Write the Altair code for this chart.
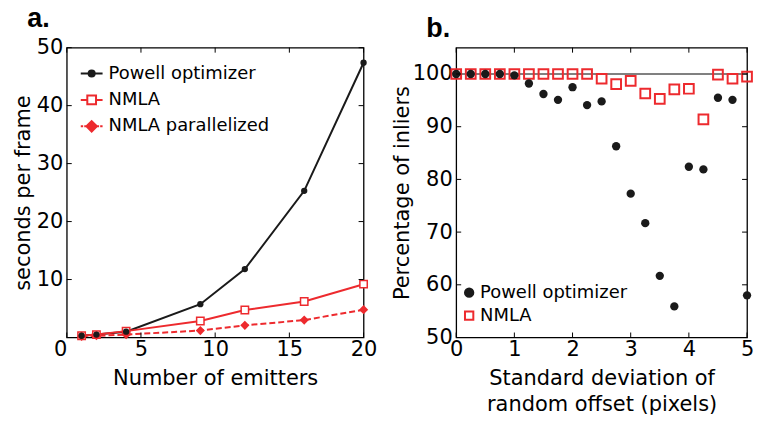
import altair as alt
import pandas as pd

# ---------------- data: panel a ----------------
emitters = [1, 2, 4, 9, 12, 16, 20]
powell_sec = [0.3, 0.5, 1.0, 5.75, 11.8, 25.3, 47.4]
nmla_sec = [0.3, 0.5, 1.1, 2.85, 4.75, 6.2, 9.2]
nmla_par_sec = [0.2, 0.3, 0.5, 1.2, 2.1, 3.0, 4.8]
series_a = ["Powell optimizer", "NMLA", "NMLA parallelized"]
xticks_a = [0, 5, 10, 15, 20]
yticks_a = [0, 10, 20, 30, 40, 50]
ylabels_a = [10, 20, 30, 40, 50]

# ---------------- data: panel b ----------------
offset_sd = [0, 0.25, 0.5, 0.75, 1.0, 1.25, 1.5, 1.75, 2.0, 2.25, 2.5,
             2.75, 3.0, 3.25, 3.5, 3.75, 4.0, 4.25, 4.5, 4.75, 5.0]
powell_pct = [100, 100, 100, 100, 99.75, 98.2, 96.2, 95.1, 97.5, 94.1, 94.8,
              86.3, 77.3, 71.7, 61.7, 55.9, 82.4, 81.9, 95.5, 95.1, 58.0]
nmla_pct = [100, 100, 100, 100, 100, 100, 100, 100, 100, 100, 99.1,
            98.1, 98.7, 96.3, 95.3, 97.1, 97.2, 91.4, 99.9, 99.1, 99.5]
series_b = ["Powell optimizer", "NMLA"]
xticks_b = [0, 1, 2, 3, 4, 5]
yticks_b = [50, 60, 70, 80, 90, 100]
reference_level = [100]

RED = "#ed2a2e"
BLACK = "#1a1a1a"
FONT = "DejaVu Sans"
W_A, W_B, H = 298, 292, 291
TICK = 5


def axis_x(values, first_right=False):
    kw = {}
    if first_right:
        kw["labelAlign"] = {"condition": {"test": "datum.value == 0", "value": "right"}, "value": "center"}
    return alt.Axis(values=values, ticks=False, domain=False, grid=False, labelFontSize=21,
                    labelFont=FONT, labelColor="black", labelPadding=1,
                    titleFontSize=21, titleFont=FONT, titleFontWeight="normal",
                    titleColor="black", titlePadding=8, titleLineHeight=26,
                    labelFlush=False, format="d", **kw)


def axis_y(values, tpad):
    return alt.Axis(values=values, ticks=False, domain=False, grid=False,
                    labelFontSize=21, labelFont=FONT, labelColor="black",
                    labelPadding=4, titleFontSize=21, titleFont=FONT,
                    titleFontWeight="normal", titleColor="black",
                    titlePadding=tpad, labelFlush=False, format="d")


def tick_layers(xvals, yvals, xs, ys, w):
    tx = pd.DataFrame({"v": xvals})
    ty = pd.DataFrame({"v": yvals})
    top = alt.Chart(tx).mark_rule(color="black", strokeWidth=1).encode(
        x=alt.X("v:Q", scale=xs), y=alt.value(0), y2=alt.value(TICK))
    bot = alt.Chart(tx).mark_rule(color="black", strokeWidth=1).encode(
        x=alt.X("v:Q", scale=xs), y=alt.value(H), y2=alt.value(H - TICK))
    left = alt.Chart(ty).mark_rule(color="black", strokeWidth=1).encode(
        y=alt.Y("v:Q", scale=ys), x=alt.value(0), x2=alt.value(TICK))
    right = alt.Chart(ty).mark_rule(color="black", strokeWidth=1).encode(
        y=alt.Y("v:Q", scale=ys), x=alt.value(w), x2=alt.value(w - TICK))
    return [top, bot, left, right]


def panel_title(text, dx):
    return alt.TitleParams(text, anchor="start", dx=dx, fontSize=27, font="Liberation Sans",
                           fontWeight="bold", color="black", offset=4)


# ---------------- panel a ----------------
df_pow = pd.DataFrame({"x": emitters, "y": powell_sec})
df_nmla = pd.DataFrame({"x": emitters, "y": nmla_sec})
df_par = pd.DataFrame({"x": emitters, "y": nmla_par_sec})

xs_a = alt.Scale(domain=[0, 20], nice=False, zero=False)
ys_a = alt.Scale(domain=[0, 50], nice=False)
X_a = alt.X("x:Q", scale=xs_a, axis=axis_x(xticks_a, first_right=True), title="Number of emitters")
Y_a = alt.Y("y:Q", scale=ys_a, axis=axis_y(ylabels_a, 3), title="seconds per frame")

line_pow = alt.Chart(df_pow).mark_line(color=BLACK, strokeWidth=2).encode(x=X_a, y=Y_a)
line_nmla = alt.Chart(df_nmla).mark_line(color=RED, strokeWidth=2).encode(x=X_a, y=Y_a)
line_par = alt.Chart(df_par).mark_line(color=RED, strokeWidth=2, strokeDash=[6, 3]).encode(x=X_a, y=Y_a)
pt_pow = alt.Chart(df_pow).mark_point(shape="circle", filled=True, color=BLACK, size=40, opacity=1).encode(x=X_a, y=Y_a)
pt_nmla = alt.Chart(df_nmla).mark_point(shape="square", fill="white", stroke=RED, strokeWidth=1.5,
                                        size=55, opacity=1, fillOpacity=1).encode(x=X_a, y=Y_a)
pt_par = alt.Chart(df_par).mark_point(shape="diamond", filled=True, color=RED, size=85, opacity=1).encode(x=X_a, y=Y_a)

# legend-only layer (invisible marks, symbols drawn by the legend)
leg_a_df = pd.DataFrame({"x": [emitters[0]] * 3, "y": [powell_sec[0], nmla_sec[0], nmla_par_sec[0]],
                         "series_a": series_a})
path_circle = "M-1,0L1,0M0.28,0A0.28,0.28 0 1,1 -0.28,0A0.28,0.28 0 1,1 0.28,0Z"
path_square = "M-1,0L-0.4,0M0.4,0L1,0M-0.4,-0.4L0.4,-0.4L0.4,0.4L-0.4,0.4Z"
path_diamond = ("M-1,0L-0.78,0M-0.68,0L-0.5,0M0.5,0L0.68,0M0.78,0L1,0"
                "M0,-0.48L0.48,0L0,0.48L-0.48,0Z")
leg_a = alt.Legend(title=None, orient="none", legendX=13, legendY=14,
                   labelFontSize=18, labelFont=FONT, labelColor="black", labelLimit=300,
                   symbolSize=480, symbolStrokeWidth=2, labelOffset=5,
                   rowPadding=5.5, padding=0, symbolOpacity=1)
legend_layer_a = alt.Chart(leg_a_df).mark_point(opacity=0, strokeWidth=2).encode(
    x=X_a, y=Y_a,
    shape=alt.Shape("series_a:N", scale=alt.Scale(domain=series_a, range=[path_circle, path_square, path_diamond]),
                    legend=leg_a),
    fill=alt.Fill("series_a:N", scale=alt.Scale(domain=series_a, range=[BLACK, "white", RED]), legend=leg_a),
    stroke=alt.Stroke("series_a:N", scale=alt.Scale(domain=series_a, range=[BLACK, RED, RED]), legend=leg_a),
)

panel_a = alt.layer(
    line_pow, line_nmla, line_par, pt_nmla, pt_par, pt_pow, legend_layer_a,
    *tick_layers(xticks_a, yticks_a, xs_a, ys_a, W_A)
).properties(width=W_A, height=H, title=panel_title("a.", 15))

# ---------------- panel b ----------------
xs_b = alt.Scale(domain=[0, 5], nice=False, zero=False)
ys_b = alt.Scale(domain=[50, 105], nice=False, zero=False)
df_b_pow = pd.DataFrame({"x": offset_sd, "y": powell_pct})
df_b_nmla = pd.DataFrame({"x": offset_sd, "y": nmla_pct})
X_b = alt.X("x:Q", scale=xs_b, axis=axis_x(xticks_b), title=["Standard deviation of", "random offset (pixels)"])
Y_b = alt.Y("y:Q", scale=ys_b, axis=axis_y(yticks_b, 0), title="Percentage of inliers")

ref_line = alt.Chart(pd.DataFrame({"y": reference_level})).mark_rule(color="black", strokeWidth=1).encode(
    y=alt.Y("y:Q", scale=ys_b))
sq_b = alt.Chart(df_b_nmla).mark_point(shape="square", filled=False, stroke=RED, strokeWidth=2,
                                       size=95, opacity=1).encode(x=X_b, y=Y_b)
dot_b = alt.Chart(df_b_pow).mark_point(shape="circle", filled=True, color=BLACK, size=70, opacity=1).encode(x=X_b, y=Y_b)

leg_b_df = pd.DataFrame({"x": [offset_sd[0]] * 2, "y": [powell_pct[0], nmla_pct[0]], "series_b": series_b})
leg_b = alt.Legend(title=None, orient="none", legendX=4, legendY=237,
                   labelFontSize=18, labelFont=FONT, labelColor="black", labelLimit=300,
                   symbolSize=70, symbolStrokeWidth=2, labelOffset=2,
                   rowPadding=5, padding=0, symbolOpacity=1)
legend_layer_b = alt.Chart(leg_b_df).mark_point(opacity=0, strokeWidth=2).encode(
    x=X_b, y=Y_b,
    shape=alt.Shape("series_b:N", scale=alt.Scale(domain=series_b, range=["circle", "square"]), legend=leg_b),
    fill=alt.Fill("series_b:N", scale=alt.Scale(domain=series_b, range=[BLACK, "white"]), legend=leg_b),
    stroke=alt.Stroke("series_b:N", scale=alt.Scale(domain=series_b, range=[BLACK, RED]), legend=leg_b),
)

panel_b = alt.layer(
    ref_line, sq_b, dot_b, legend_layer_b,
    *tick_layers(xticks_b, yticks_b, xs_b, ys_b, W_B)
).properties(width=W_B, height=H, title=panel_title("b.", 35))

chart = alt.hconcat(panel_a, panel_b, spacing=12).resolve_scale(
    shape="independent", fill="independent", stroke="independent"
).properties(
    padding={"left": 3, "top": -5, "right": -1, "bottom": 3}
).configure_view(stroke="black", strokeWidth=1.3).configure_axis(labelFont=FONT, titleFont=FONT)

chart.save("out.html", embed_options={"renderer": "svg", "actions": False})
